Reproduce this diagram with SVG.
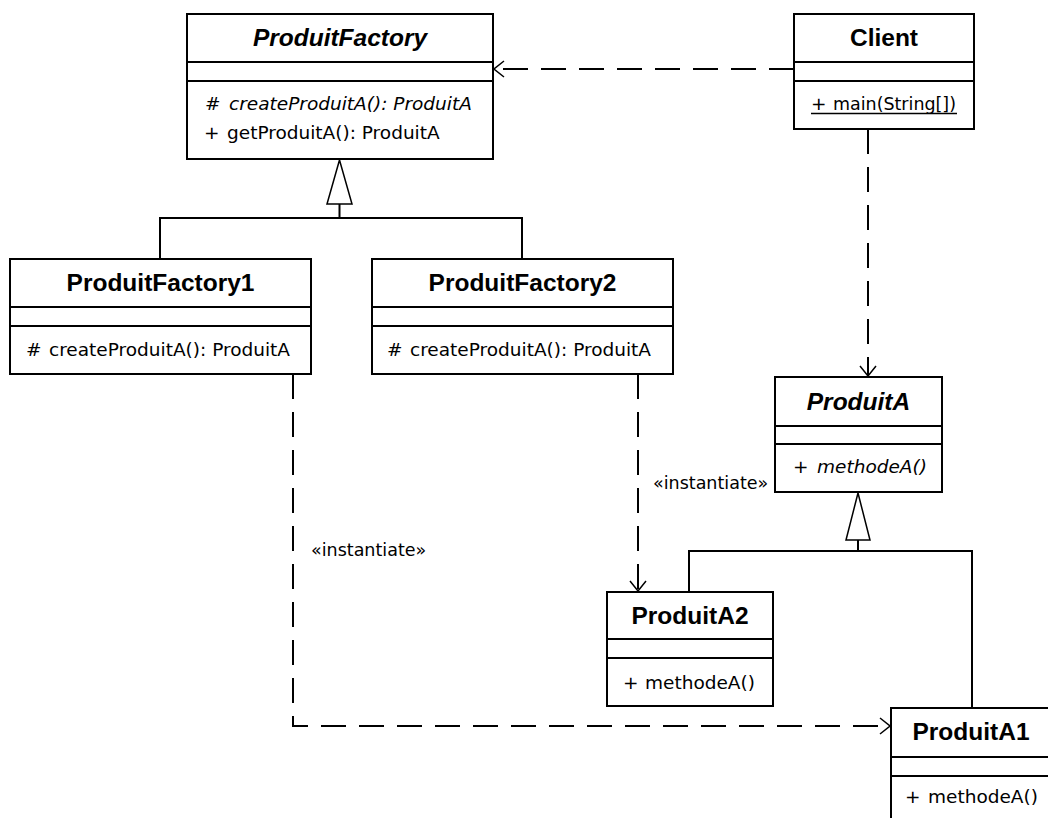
<svg xmlns="http://www.w3.org/2000/svg" width="1048" height="818" viewBox="0 0 1048 818">
<defs>
<style>
.box{fill:#fff;stroke:#000;stroke-width:2}
.div{stroke:#000;stroke-width:2}
.t{font-family:"Liberation Sans",Arial,sans-serif;font-weight:bold;font-size:24.5px;text-anchor:middle;fill:#000}
.ti{font-style:italic}
.m{font-family:"DejaVu Sans",sans-serif;font-size:18.5px;fill:#000}
.mi{font-style:italic}
.lbl{font-family:"DejaVu Sans",sans-serif;font-size:17.5px;fill:#000}
.solid{fill:none;stroke:#000;stroke-width:2}
.dash{fill:none;stroke:#000;stroke-width:2;stroke-dasharray:25 13}
.head{fill:none;stroke:#000;stroke-width:1.5}
.tri{fill:#fff;stroke:#000;stroke-width:1.5}
</style>
<marker id="open" viewBox="0 0 12 18" refX="11" refY="9" markerWidth="12" markerHeight="18" markerUnits="userSpaceOnUse" orient="auto">
<path d="M1,1 L11,9 L1,17" class="head"/>
</marker>
</defs>

<g id="connectors">
<line x1="794" y1="69" x2="494" y2="69" class="dash" marker-end="url(#open)"/>
<line x1="868" y1="129" x2="868" y2="376" class="dash" marker-end="url(#open)"/>
<polyline points="160,259 160,218 522,218 522,259" class="solid"/>
<line x1="339.5" y1="204" x2="339.5" y2="218" class="solid"/>
<polygon points="339.5,160 327,204 352,204" class="tri"/>
<polyline points="689,592 689,551 972,551 972,708" class="solid"/>
<line x1="858" y1="540" x2="858" y2="551" class="solid"/>
<polygon points="858,493 846,540 870,540" class="tri"/>
<line x1="638" y1="374" x2="638" y2="591" class="dash" marker-end="url(#open)"/>
<polyline points="293,374 293,726 890,726" class="dash" marker-end="url(#open)"/>
<text x="653" y="489" class="lbl">«instantiate»</text>
<text x="311" y="556" class="lbl">«instantiate»</text>
</g>

<g id="ProduitFactory">
<rect x="187" y="14" width="306" height="145" class="box"/>
<line x1="187" y1="62" x2="493" y2="62" class="div"/>
<line x1="187" y1="81" x2="493" y2="81" class="div"/>
<text x="340" y="46" class="t ti">ProduitFactory</text>
<text x="205" y="110" class="m">#</text>
<text x="229" y="110" class="m mi">createProduitA(): ProduitA</text>
<text x="204" y="139" class="m">+</text>
<text x="227" y="139" class="m">getProduitA(): ProduitA</text>
</g>

<g id="Client">
<rect x="794" y="14" width="180" height="115" class="box"/>
<line x1="794" y1="62" x2="974" y2="62" class="div"/>
<line x1="794" y1="81" x2="974" y2="81" class="div"/>
<text x="884" y="46" class="t">Client</text>
<text x="811" y="110" class="m">+</text>
<text x="833" y="110" class="m" textLength="123" lengthAdjust="spacingAndGlyphs">main(String[])</text>
<line x1="811" y1="113.5" x2="957" y2="113.5" stroke="#000" stroke-width="1.5"/>
</g>

<g id="ProduitFactory1">
<rect x="10" y="259" width="301" height="115" class="box"/>
<line x1="10" y1="307" x2="311" y2="307" class="div"/>
<line x1="10" y1="326" x2="311" y2="326" class="div"/>
<text x="160.5" y="291" class="t">ProduitFactory1</text>
<text x="26" y="356" class="m">#</text>
<text x="49" y="356" class="m">createProduitA(): ProduitA</text>
</g>

<g id="ProduitFactory2">
<rect x="372" y="259" width="301" height="115" class="box"/>
<line x1="372" y1="307" x2="673" y2="307" class="div"/>
<line x1="372" y1="326" x2="673" y2="326" class="div"/>
<text x="522.5" y="291" class="t">ProduitFactory2</text>
<text x="387" y="356" class="m">#</text>
<text x="410" y="356" class="m">createProduitA(): ProduitA</text>
</g>

<g id="ProduitA">
<rect x="775" y="377" width="167" height="115" class="box"/>
<line x1="775" y1="426" x2="942" y2="426" class="div"/>
<line x1="775" y1="444" x2="942" y2="444" class="div"/>
<text x="858.5" y="410" class="t ti">ProduitA</text>
<text x="793" y="473" class="m">+</text>
<text x="817" y="473" class="m mi">methodeA()</text>
</g>

<g id="ProduitA2">
<rect x="607" y="592" width="166" height="114" class="box"/>
<line x1="607" y1="639" x2="773" y2="639" class="div"/>
<line x1="607" y1="658" x2="773" y2="658" class="div"/>
<text x="690" y="624" class="t">ProduitA2</text>
<text x="623" y="689" class="m">+</text>
<text x="645" y="689" class="m">methodeA()</text>
</g>

<g id="ProduitA1">
<rect x="891" y="708" width="160" height="120" class="box"/>
<line x1="891" y1="757" x2="1051" y2="757" class="div"/>
<line x1="891" y1="776" x2="1051" y2="776" class="div"/>
<text x="971" y="740" class="t">ProduitA1</text>
<text x="905" y="803" class="m">+</text>
<text x="928" y="803" class="m">methodeA()</text>
</g>
</svg>
